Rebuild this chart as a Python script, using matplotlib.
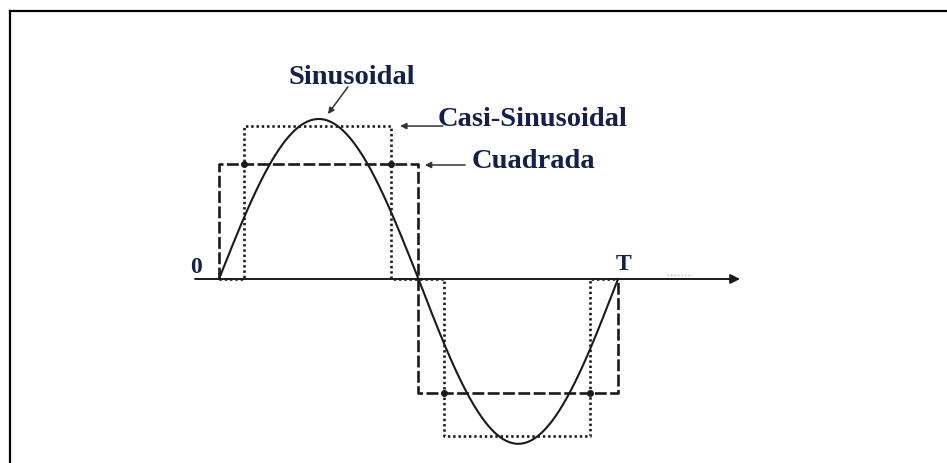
import numpy as np
import matplotlib
matplotlib.use('Agg')
import matplotlib.pyplot as plt
from matplotlib.lines import Line2D

# time as fraction of one period T, values in units of sine amplitude
sine_peak = 1.0
sine_trough = 1.03

square_t = [0, 0, 0.5, 0.5, 1.0, 1.0]
square_v = [0, 0.72, 0.72, -0.71, -0.71, 0]

quasi_t = [0, 0.063, 0.063, 0.431, 0.431, 0.564, 0.564, 0.930, 0.930, 1.0]
quasi_v = [0, 0, 0.956, 0.956, 0, 0, -0.98, -0.98, 0, 0]

# junction dots where the quasi-sine edges cross the square levels
junction_t = [0.063, 0.431, 0.564, 0.930]
junction_v = [0.72, 0.72, -0.71, -0.71]

labels = ['Sinusoidal', 'Casi-Sinusoidal', 'Cuadrada']
label_pos = [(0.333, 1.2625), (0.549, 1.006), (0.634, 0.7375)]
arrow_from = [(0.323, 1.20), (0.561, 0.956), (0.617, 0.7125)]
arrow_to = [(0.273, 1.031), (0.454, 0.956), (0.516, 0.7125)]

text_col = '#15204a'
line_col = '#1a1a1a'
font = 'Liberation Serif'

fig = plt.figure(figsize=(9.47, 4.64), dpi=100)
ax = fig.add_axes([0, 0, 1, 1])
ax.set_xlim(-0.5489, 1.8246)
ax.set_ylim(-1.15, 1.75)
ax.axis('off')

# frame (only top and left edges survive in the crop)
fig.add_artist(Line2D([10/947, 10/947], [0, 1 - 12/464], transform=fig.transFigure,
                      color='black', lw=1.6))
fig.add_artist(Line2D([10/947, 1], [1 - 12/464, 1 - 12/464], transform=fig.transFigure,
                      color='black', lw=1.6))

# time axis with arrow
ax.annotate('', xy=(1.306, 0), xytext=(-0.06, 0),
            arrowprops=dict(arrowstyle='-|>', color=line_col, lw=1.4, mutation_scale=14,
                            shrinkA=0, shrinkB=0))

t = np.linspace(0, 1, 400)
s = np.sin(2 * np.pi * t)
s = np.where(s > 0, s * sine_peak, s * sine_trough)
ax.plot(t, s, color=line_col, lw=1.5)

ax.plot(square_t, square_v, color=line_col, lw=1.9, dashes=(4.5, 1.3))
ax.plot(quasi_t, quasi_v, color=line_col, lw=1.9, dashes=(0.9, 1.1))
ax.plot(junction_t, junction_v, 'o', color=line_col, ms=4)

for lab, pos in zip(labels, label_pos):
    ha = 'center' if lab == 'Sinusoidal' else 'left'
    ax.text(pos[0], pos[1], lab, ha=ha, va='center', family=font, weight='bold',
            fontsize=20.5, color=text_col)

for a, b in zip(arrow_from, arrow_to):
    ax.annotate('', xy=b, xytext=a,
                arrowprops=dict(arrowstyle='-|>', color='#333333', lw=1.1, mutation_scale=9,
                                shrinkA=0, shrinkB=0))

ax.text(-0.058, 0.081, '0', ha='center', va='center', family=font, weight='bold',
        fontsize=17, color=text_col)
ax.text(1.013, 0.094, 'T', ha='center', va='center', family=font, weight='bold',
        fontsize=17, color=text_col)

# faint scan artefact right of T
ax.plot([1.123, 1.186], [0.025, 0.025], color='#bbbbbb', lw=1, dashes=(1, 1.5))

fig.savefig('out.png', dpi=100)
